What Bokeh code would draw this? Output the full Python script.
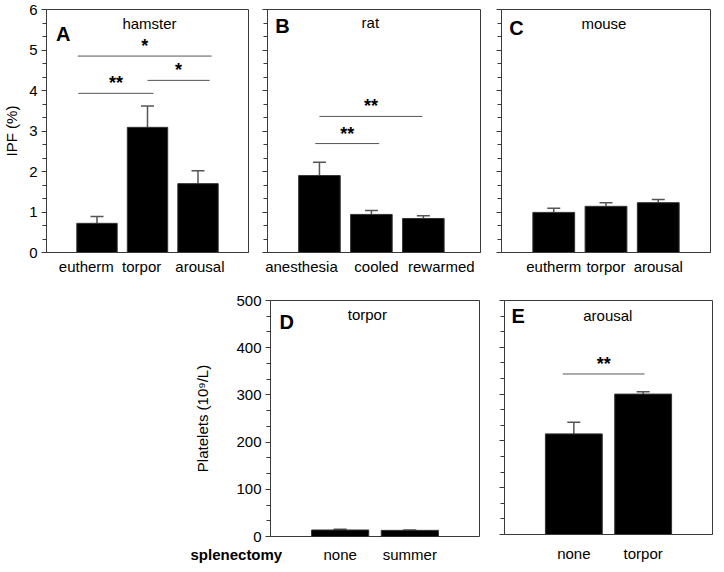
from bokeh.plotting import figure
from bokeh.models import (Range1d, FixedTicker, SingleIntervalTicker, Whisker, TeeHead,
                          ColumnDataSource, Label, Spacer)
from bokeh.layouts import row, column
from bokeh.embed import file_html
from bokeh.resources import INLINE
from bokeh.core.properties import value

# ---------------- data ----------------
hamster_cats = ["eutherm", "torpor", "arousal"]
hamster_ipf = [0.72, 3.09, 1.70]
hamster_sem = [0.17, 0.53, 0.32]

rat_cats = ["anesthesia", "cooled", "rewarmed"]
rat_ipf = [1.90, 0.94, 0.84]
rat_sem = [0.33, 0.10, 0.07]

mouse_cats = ["eutherm", "torpor", "arousal"]
mouse_ipf = [0.99, 1.14, 1.23]
mouse_sem = [0.10, 0.09, 0.08]

torpor_cats = ["none", "summer"]
torpor_plt = [13.8, 13.0]
torpor_sem = [1.5, 1.0]

arousal_cats = ["none", "torpor"]
arousal_plt = [215.0, 300.0]
arousal_sem = [25.0, 5.0]

# significance brackets (x0, x1 in bar-position units, y in data units)
hamster_sig_x0 = [0.62, 2.00, 0.63]
hamster_sig_x1 = [3.27, 3.23, 2.12]
hamster_sig_y = [4.85, 4.25, 3.93]
hamster_sig_txt = ["*", "*", "**"]

rat_sig_x0 = [1.00, 0.92]
rat_sig_x1 = [2.98, 2.15]
rat_sig_y = [3.36, 2.69]
rat_sig_txt = ["**", "**"]

arousal_sig_x0 = [0.84]
arousal_sig_x1 = [2.02]
arousal_sig_y = [343.0]
arousal_sig_txt = ["**"]

# ---------------- style ----------------
FONT = "Liberation Sans"
FONT_V = value(FONT)
EDGE = "#3a3a3a"
ERR = "#555555"
SIG = "#555555"


def make_panel(width, height, bl, br, bt, bb, xmax, ymax, interval, cats, vals, sem,
               bar_w, show_ylabels, ylabel=None, label_shift_px=None, show_xaxis=True):
    p = figure(width=width, height=height, x_range=Range1d(0, xmax), y_range=Range1d(0, ymax),
               output_backend="svg", toolbar_location=None,
               min_border_left=bl, min_border_right=br, min_border_top=bt, min_border_bottom=bb)
    p.frame_align = False
    p.grid.visible = False
    p.outline_line_color = EDGE
    p.outline_line_width = 1
    p.background_fill_color = "white"
    p.border_fill_color = "white"

    xs = list(range(1, len(cats) + 1))
    src = ColumnDataSource(dict(x=xs, top=vals, up=[v + s for v, s in zip(vals, sem)]))
    p.vbar(x="x", top="top", width=bar_w, source=src, fill_color="black", line_color="#333333")
    wh = Whisker(base="x", lower="top", upper="up", source=src, dimension="height",
                 line_color=ERR, line_width=1.5, lower_head=None,
                 upper_head=TeeHead(size=13, line_color=ERR, line_width=1.5))
    p.add_layout(wh)

    # y axis
    ya = p.yaxis[0]
    ya.ticker = SingleIntervalTicker(interval=interval, num_minor_ticks=3)
    ya.axis_line_color = EDGE
    ya.major_tick_line_color = EDGE
    ya.minor_tick_line_color = EDGE
    ya.major_tick_in = 0
    ya.major_tick_out = 5
    ya.minor_tick_in = 0
    ya.minor_tick_out = 4
    if show_ylabels:
        ya.major_label_text_font = FONT
        ya.major_label_text_font_size = "15px"
        ya.major_label_text_color = "black"
        ya.major_label_standoff = 4
    else:
        ya.major_label_text_font_size = "1px"
        ya.major_label_text_color = None
        ya.major_label_standoff = 0
    if ylabel:
        ya.axis_label = ylabel
        ya.axis_label_text_font = FONT
        ya.axis_label_text_font_size = "15px"
        ya.axis_label_text_font_style = "normal"
        ya.axis_label_text_color = "black"

    # x axis: labels under the bars (optionally nudged sideways by a few pixels)
    xa = p.xaxis[0]
    if not show_xaxis:
        xa.visible = False
        return p
    frame_w = width - bl - br
    px_per_unit = frame_w / xmax
    shifts = label_shift_px or [0] * len(xs)
    ticks = [x + d / px_per_unit for x, d in zip(xs, shifts)]
    xa.ticker = FixedTicker(ticks=ticks)
    xa.major_label_overrides = {t: c for t, c in zip(ticks, cats)}
    xa.axis_line_color = EDGE
    xa.major_tick_in = 0
    xa.major_tick_out = 0
    xa.minor_tick_in = 0
    xa.minor_tick_out = 0
    xa.major_label_standoff = 5
    xa.major_label_text_font = FONT
    xa.major_label_text_font_size = "15px"
    xa.major_label_text_color = "black"
    return p


def add_sig(p, x0, x1, y, txt):
    p.segment(x0=x0, y0=y, x1=x1, y1=y, line_color=SIG, line_width=1)
    mids = [(a + b) / 2 for a, b in zip(x0, x1)]
    p.text(x=mids, y=y, text=txt, text_font=FONT_V, text_font_size="18px",
           text_font_style="bold", text_align="center", text_baseline="bottom", text_color="black")


def add_titles(p, letter, lx, ly, title, tx, ty):
    p.add_layout(Label(x=lx, y=ly, text=letter, text_font=FONT, text_font_size="20px",
                       text_font_style="bold", text_align="left", text_baseline="middle",
                       text_color="black"))
    p.add_layout(Label(x=tx, y=ty, text=title, text_font=FONT, text_font_size="15px",
                       text_align="center", text_baseline="middle", text_color="black"))


# ---------------- top row ----------------
TOP_H = 290
pA = make_panel(256, TOP_H, 40, 8, 9, 38, 4.0, 6, 1, hamster_cats, hamster_ipf, hamster_sem,
                0.8, True, "IPF (%)", label_shift_px=[-11, -6, 2])
pA.yaxis[0].axis_label_standoff = 6
add_sig(pA, hamster_sig_x0, hamster_sig_x1, hamster_sig_y, hamster_sig_txt)
add_titles(pA, "A", 0.19, 5.4, "hamster", 2.04, 5.65)

pB = make_panel(234, TOP_H, 11, 10, 9, 38, 4.1, 6, 1, rat_cats, rat_ipf, rat_sem,
                0.8, False, label_shift_px=[-18, 5, 18])
add_sig(pB, rat_sig_x0, rat_sig_x1, rat_sig_y, rat_sig_txt)
add_titles(pB, "B", 0.15, 5.6, "rat", 1.98, 5.68)

pC = make_panel(223, TOP_H, 11, 3, 9, 38, 4.0, 6, 1, mouse_cats, mouse_ipf, mouse_sem,
                0.8, False)
add_titles(pC, "C", 0.15, 5.55, "mouse", 1.96, 5.65)

# ---------------- bottom row ----------------
D_W, D_BL, D_BR = 305, 90, 6
D_XMAX = 3.0
pD = make_panel(D_W, 254, D_BL, D_BR, 10, 8, D_XMAX, 500, 100, torpor_cats, torpor_plt,
                torpor_sem, 0.82, True, "Platelets (10\u2079/L)", show_xaxis=False)
pD.yaxis[0].axis_label_standoff = 22
add_titles(pD, "D", 0.13, 455, "torpor", 1.39, 471)

# strip under panel D carrying its category labels and the "splenectomy" row title;
# its x range is aligned with panel D's frame
ppu = (D_W - D_BL - D_BR) / D_XMAX
strip = figure(width=D_W, height=20, x_range=Range1d(-D_BL / ppu, D_XMAX + D_BR / ppu),
               y_range=Range1d(0, 1), output_backend="svg", toolbar_location=None,
               x_axis_type=None, y_axis_type=None,
               min_border_left=0, min_border_right=0, min_border_top=0, min_border_bottom=0)
strip.frame_align = False
strip.outline_line_color = None
strip.grid.visible = False
strip.text(x=list(range(1, len(torpor_cats) + 1)), y=[0.5] * len(torpor_cats), text=torpor_cats,
           text_font=FONT_V, text_font_size="15px", text_align="center",
           text_baseline="middle", text_color="black")
strip.text(x=[-0.49], y=[0.5], text=["splenectomy"], text_font=FONT_V, text_font_size="15px",
           text_font_style="bold", text_align="center", text_baseline="middle",
           text_color="black")

pE = make_panel(229, 274, 19, 2, 10, 28, 3.0, 500, 100, arousal_cats, arousal_plt, arousal_sem,
                0.82, False)
pE.xaxis[0].major_label_standoff = 10
add_sig(pE, arousal_sig_x0, arousal_sig_x1, arousal_sig_y, arousal_sig_txt)
add_titles(pE, "E", 0.1, 467, "arousal", 1.49, 469)

layout = column(row(pA, pB, pC),
                row(Spacer(width=180, height=274), column(pD, strip), pE))

open("out.html", "w").write(file_html(layout, INLINE))
